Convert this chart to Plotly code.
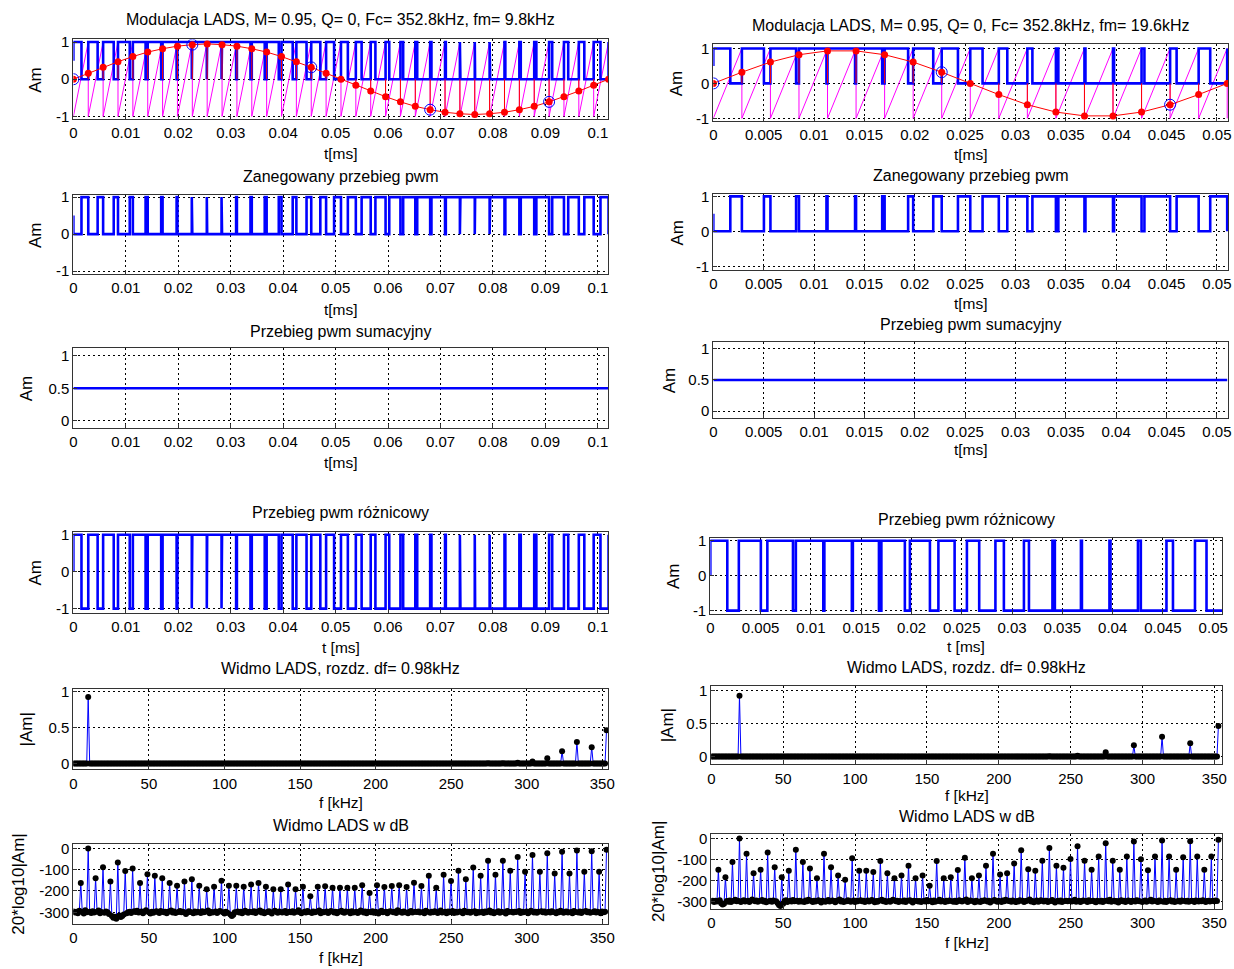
import numpy as np
import plotly.graph_objects as go

# ---------------- data ----------------
FC = 352.8          # carrier frequency [kHz]
DF = 0.98           # spectrum resolution [kHz]
ORIG_STEP = 8       # every 8th sample = original 44.1 kHz sample (blue circles)

# upsampled modulating samples (red dots), one per carrier period
samples_left = [0, 0.16, 0.32, 0.47, 0.61, 0.73, 0.82, 0.89, 0.93, 0.95, 0.93, 0.89,
                0.82, 0.73, 0.61, 0.47, 0.32, 0.16, 0, -0.16, -0.32, -0.47, -0.61, -0.73,
                -0.82, -0.89, -0.93, -0.95, -0.93, -0.89, -0.82, -0.73, -0.61, -0.47, -0.32, -0.16, 0]
samples_right = [0, 0.32, 0.61, 0.82, 0.93, 0.93, 0.82, 0.61, 0.32, 0,
                 -0.32, -0.61, -0.82, -0.93, -0.93, -0.82, -0.61, -0.32, 0]

# spectral lines every 5 bins (k = 1..72), in dB
peaks_db_left = [-162, -0.7, -140, -89, -156, -66, -106, -94, -162, -122, -128, -140,
                 -162, -175, -156, -145, -175, -192, -180, -152, -175, -175, -180, -170,
                 -162, -180, -192, -192, -170, -192, -180, -225, -180, -178, -185, -185,
                 -185, -185, -173, -210, -173, -181, -177, -173, -181, -161, -177, -129,
                 -185, -124, -153, -105, -145, -90, -129, -58, -124, -58, -105, -40,
                 -110, -31, -110, -23, -118, -15.4, -118, -10.5, -110, -13, -110, -6.7]
peaks_db_right = [-150, -185, -113, -0.7, -74, -167, -150, -67, -138, -185, -154, -54,
                  -113, -144, -190, -74, -138, -177, -197, -95, -154, -154, -161, -108,
                  -166, -190, -177, -131, -190, -177, -226, -108, -190, -185, -151, -93,
                  -190, -177, -131, -74, -172, -167, -120, -57, -148, -154, -107, -46,
                  -131, -140, -98, -38, -107, -150, -87, -24, -107, -150, -87, -15.4,
                  -100, -152, -87, -10.5, -87, -150, -90, -14, -87, -150, -87, -6.7]

# numerical noise floor for the remaining bins (dB)
floor_db_left = [
    -296, -301, -298, -304, -293, -299, -306, -290, -300, -297, -303, -295, -301, -298, -292, -305, -299,
    -302, -296, -300, -308, -318, -326, -321, -330, -315, -322, -318, -310, -305, -300, -297, -303, -295,
    -299, -293, -301, -296, -304, -298, -291, -300, -306, -297, -302, -295, -299, -303, -294, -300, -297,
    -305, -298, -292, -301, -296, -303, -299, -294, -300, -297, -308, -301, -295, -299, -304, -296, -301,
    -298, -303, -295, -300, -297, -292, -304, -299, -301, -296, -303, -298, -294, -300, -306, -297, -302,
    -310, -318, -312, -300, -296, -301, -298, -304, -293, -299, -302, -297, -300, -295, -303, -298, -292,
    -301, -297, -304, -299, -295, -300, -306, -293, -298, -302, -296, -301, -299, -294, -303, -297, -300,
    -295, -302, -298, -291, -300, -305, -297, -301, -294, -299, -303, -296, -300, -298, -292, -304, -299,
    -300, -296, -303, -298, -294, -301, -297, -305, -299, -293, -300, -302, -296, -298, -304, -295, -301,
    -297, -303, -299, -292, -301, -296, -304, -298, -300, -295, -302, -297, -306, -299, -293, -300, -298,
    -304, -298, -295, -300, -297, -303, -291, -299, -302, -296, -300, -305, -298, -294, -301, -297, -299,
    -296, -301, -299, -304, -293, -298, -302, -297, -300, -295, -303, -299, -292, -301, -298, -305, -296,
    -300, -294, -303, -298, -301, -296, -299, -305, -293, -300, -297, -302, -298, -295, -304, -299, -301,
    -298, -303, -296, -300, -292, -301, -297, -304, -299, -295, -302, -298, -300, -306, -294, -299, -297,
    -301, -297, -299, -294, -303, -298, -300, -296, -305, -299, -293, -301, -297, -302, -298, -295, -300,
    -296, -302, -298, -301, -295, -299, -304, -297, -300, -293, -302, -298, -296, -301, -299, -305, -294,
    -299, -301, -296, -303, -298, -294, -300, -297, -302, -299, -295, -301, -298, -304, -296, -300, -298]
floor_db_right = [
    -300, -297, -303, -298, -301, -295, -310, -316, -312, -299, -302, -296, -304, -298, -293, -300, -297,
    -303, -299, -295, -301, -297, -304, -298, -292, -300, -296, -302, -299, -294, -301, -297, -305, -300,
    -298, -302, -296, -300, -308, -318, -322, -312, -299, -295, -303, -298, -301, -294, -300, -297, -302,
    -297, -301, -304, -296, -300, -293, -299, -303, -298, -301, -295, -300, -306, -297, -302, -299, -294,
    -301, -296, -299, -305, -298, -292, -301, -297, -303, -300, -295, -299, -302, -296, -304, -298, -300,
    -295, -300, -298, -303, -296, -301, -297, -294, -305, -299, -302, -298, -293, -300, -297, -304, -299,
    -302, -298, -293, -300, -297, -304, -299, -301, -296, -303, -298, -295, -300, -306, -297, -299, -301,
    -299, -303, -297, -301, -294, -300, -298, -305, -296, -302, -299, -293, -301, -297, -303, -298, -300,
    -296, -300, -302, -298, -304, -295, -299, -301, -297, -292, -303, -299, -296, -300, -305, -298, -301,
    -303, -297, -299, -295, -301, -298, -306, -300, -294, -299, -302, -297, -304, -296, -300, -293, -299,
    -298, -302, -296, -304, -299, -301, -295, -298, -303, -300, -297, -292, -301, -299, -305, -296, -302,
    -300, -295, -301, -298, -297, -303, -299, -294, -300, -306, -298, -301, -296, -303, -299, -297, -300,
    -297, -301, -299, -293, -302, -298, -304, -300, -296, -299, -303, -295, -300, -298, -301, -305, -297,
    -301, -298, -304, -299, -296, -300, -293, -302, -297, -301, -299, -306, -295, -300, -298, -303, -296,
    -299, -303, -297, -301, -295, -298, -300, -304, -299, -296, -302, -298, -293, -301, -297, -300, -304,
    -296, -300, -302, -297, -303, -299, -295, -301, -298, -304, -300, -297, -302, -296, -299, -301, -298,
    -302, -297, -299, -304, -296, -301, -298, -300, -295, -303, -299, -297, -301, -298, -300, -296, -299]

# axis ticks
t_ticks_left = [0, 0.01, 0.02, 0.03, 0.04, 0.05, 0.06, 0.07, 0.08, 0.09, 0.1]
t_labels_left = ["0", "0.01", "0.02", "0.03", "0.04", "0.05", "0.06", "0.07", "0.08", "0.09", "0.1"]
t_ticks_right = [0, 0.005, 0.01, 0.015, 0.02, 0.025, 0.03, 0.035, 0.04, 0.045, 0.05]
t_labels_right = ["0", "0.005", "0.01", "0.015", "0.02", "0.025", "0.03", "0.035", "0.04", "0.045", "0.05"]
f_ticks = [0, 50, 100, 150, 200, 250, 300, 350]
f_labels = ["0", "50", "100", "150", "200", "250", "300", "350"]
am_ticks = [-1, 0, 1]
am_labels = ["-1", "0", "1"]
half_ticks = [0, 0.5, 1]
half_labels = ["0", "0.5", "1"]
db_ticks = [-300, -200, -100, 0]
db_labels = ["-300", "-200", "-100", "0"]

titles_left = ["Modulacja LADS, M= 0.95, Q= 0, Fc= 352.8kHz, fm= 9.8kHz", "Zanegowany przebieg pwm",
               "Przebieg pwm sumacyjny", "Przebieg pwm różnicowy", "Widmo LADS, rozdz. df= 0.98kHz",
               "Widmo LADS w dB"]
titles_right = ["Modulacja LADS, M= 0.95, Q= 0, Fc= 352.8kHz, fm= 19.6kHz", "Zanegowany przebieg pwm",
                "Przebieg pwm sumacyjny", "Przebieg pwm różnicowy", "Widmo LADS, rozdz. df= 0.98kHz",
                "Widmo LADS w dB"]
xlabels = ["t[ms]", "t[ms]", "t[ms]", "t [ms]", "f [kHz]", "f [kHz]"]
ylabels = ["Am", "Am", "Am", "Am", "|Am|", "20*log10|Am|"]

# ---------------- derived signals ----------------
T = 1.0 / FC  # carrier period in ms


def pwm_wave(s):
    xs, ys = [0.0], [0.5]
    for k in range(len(s) - 1):
        u = (1 + s[k]) / (2 - (s[k + 1] - s[k]))
        t0, t1, t2 = k * T, (k + u) * T, (k + 1) * T
        xs += [t0, t1, t1, t2]
        ys += [1, 1, 0, 0]
    xs.append(xs[-1]); ys.append(1)
    return np.array(xs), np.array(ys, dtype=float)


def saw_wave(n):
    xs, ys = [0.0], [-1.0]
    for k in range(n):
        xs += [(k + 1) * T, (k + 1) * T]
        ys += [1.0, -1.0]
    return xs, ys


def stems(s):
    xs, ys = [], []
    for k, v in enumerate(s):
        xs += [k * T, k * T, None]
        ys += [0, v, None]
    return xs, ys


def spectrum(peaks, floor):
    n = len(peaks) * 5 + 1
    db = np.zeros(n)
    fi = iter(floor)
    for i in range(n):
        if i > 0 and i % 5 == 0:
            db[i] = peaks[i // 5 - 1]
        else:
            db[i] = next(fi)
    f = np.arange(n) * DF
    return f, db, 10 ** (db / 20)


W, H = 1234, 969
BLUE, MAG, RED = "#0000FF", "#FF00FF", "#FF0000"
FONT = "Liberation Sans, Arial, sans-serif"
TICK_SIZE, TITLE_SIZE, XLAB_SIZE, YLAB_SIZE = 15, 16, 15.5, 17


# pixel -> paper helpers (small correction for the page's rendering offset)
def fx(p):
    return min(1.0, max(0.0, ((p - 3.6) / 0.992) / W))


def fy(p):
    return min(1.0, max(0.0, 1 - ((p - 6.5) / 0.989) / H))


fig = go.Figure()

# box geometry in pixels: (x0, x1, ytop, ybottom, xrange, yrange)
boxes_left = [
    (73, 608, 39, 119, [0, 0.102], [-1.08, 1.07]),
    (73, 608, 195, 274, [0, 0.102], [-1.08, 1.05]),
    (73, 608, 348, 428, [0, 0.102], [-0.11, 1.12]),
    (73, 608, 532, 613, [0, 0.102], [-1.11, 1.08]),
    (73, 608, 689, 770, [0, 354], [-0.083, 1.04]),
    (73, 608, 845, 925, [0, 354], [-356, 19]),
]
boxes_right = [
    (713, 1228, 44, 121, [0, 0.0511], [-1.086, 1.114]),
    (713, 1228, 194, 270, [0, 0.0511], [-1.11, 1.06]),
    (713, 1228, 342, 418, [0, 0.0511], [-0.11, 1.11]),
    (710, 1222, 538, 614, [0, 0.0509], [-1.086, 1.086]),
    (711, 1222, 686, 765, [0, 355.5], [-0.12, 1.076]),
    (711, 1222, 835, 910, [0, 355.5], [-338, 19]),
]
title_y_left = [19, 176, 331, 513, 669, 826]
title_y_right = [25, 175, 324, 520, 668, 817]
xlab_y_left = [153, 309, 463, 648, 803, 958]
xlab_y_right = [154, 303, 450, 647, 796, 943]
ylab_x_left = [35, 35, 27, 35, 27, 18]
ylab_x_right = [677, 677, 670, 673, 668, 658]

annotations = []
axis_i = 0


def add_axes(box, xt, xl, yt, yl):
    global axis_i
    axis_i += 1
    x0, x1, yt_, yb, xr, yr = box
    sfx = "" if axis_i == 1 else str(axis_i)
    common = dict(showline=True, linecolor="#333333", linewidth=1.2, mirror=True,
                  ticks="inside", ticklen=4, tickcolor="#333333",
                  showgrid=True, gridcolor="#000000", gridwidth=1, griddash="2px,3px",
                  zeroline=False, tickfont=dict(family=FONT, size=TICK_SIZE, color="#000"))
    fig.layout["xaxis" + sfx] = dict(common, domain=[fx(x0), fx(x1)], range=xr,
                                      tickvals=xt, ticktext=xl, anchor="y" + sfx)
    fig.layout["yaxis" + sfx] = dict(common, domain=[fy(yb), fy(yt_)], range=yr,
                                      tickvals=yt, ticktext=yl, anchor="x" + sfx)
    return "x" + sfx, "y" + sfx


def add_texts(box, title, ty, xlab, xly, ylab, ylx):
    x0, x1, yt_, yb, xr, yr = box
    cx = fx((x0 + x1) / 2)
    annotations.append(dict(text=title, x=cx, y=fy(ty), xref="paper", yref="paper",
                            showarrow=False, xanchor="center", yanchor="middle",
                            font=dict(family=FONT, size=TITLE_SIZE, color="#000")))
    annotations.append(dict(text=xlab, x=cx, y=fy(xly), xref="paper", yref="paper",
                            showarrow=False, xanchor="center", yanchor="middle",
                            font=dict(family=FONT, size=XLAB_SIZE, color="#000")))
    annotations.append(dict(text=ylab, x=fx(ylx), y=fy((yt_ + yb) / 2), xref="paper", yref="paper",
                            showarrow=False, xanchor="center", yanchor="middle", textangle=-90,
                            font=dict(family=FONT, size=YLAB_SIZE, color="#000")))


for side in ("left", "right"):
    if side == "left":
        boxes, s, pk, fl = boxes_left, samples_left, peaks_db_left, floor_db_left
        tt, tl, titles = t_ticks_left, t_labels_left, titles_left
        tys, xys, yxs = title_y_left, xlab_y_left, ylab_x_left
    else:
        boxes, s, pk, fl = boxes_right, samples_right, peaks_db_right, floor_db_right
        tt, tl, titles = t_ticks_right, t_labels_right, titles_right
        tys, xys, yxs = title_y_right, xlab_y_right, ylab_x_right

    px, py = pwm_wave(s)
    neg = 1 - py
    sumw = (py + neg) / 2
    diff = py - neg
    sx, sy = saw_wave(len(s) - 1)
    stx, sty = stems(s)
    ts = [k * T for k in range(len(s))]
    f, db, lin = spectrum(pk, fl)

    specs = [(tt, tl, am_ticks, am_labels), (tt, tl, am_ticks, am_labels),
             (tt, tl, half_ticks, half_labels), (tt, tl, am_ticks, am_labels),
             (f_ticks, f_labels, half_ticks, half_labels), (f_ticks, f_labels, db_ticks, db_labels)]
    axes = []
    for i in range(6):
        axes.append(add_axes(boxes[i], *specs[i]))
        add_texts(boxes[i], titles[i], tys[i], xlabels[i], xys[i], ylabels[i], yxs[i])

    # row 1: modulation
    xa, ya = axes[0]
    fig.add_trace(go.Scatter(x=sx, y=sy, mode="lines", line=dict(color=MAG, width=1),
                             xaxis=xa, yaxis=ya, showlegend=False))
    fig.add_trace(go.Scatter(x=px, y=py, mode="lines", line=dict(color=BLUE, width=2.6),
                             xaxis=xa, yaxis=ya, showlegend=False))
    fig.add_trace(go.Scatter(x=stx, y=sty, mode="lines", line=dict(color=RED, width=1),
                             xaxis=xa, yaxis=ya, showlegend=False))
    fig.add_trace(go.Scatter(x=ts, y=s, mode="lines+markers", line=dict(color=RED, width=1),
                             marker=dict(color=RED, size=7), xaxis=xa, yaxis=ya, showlegend=False))
    fig.add_trace(go.Scatter(x=ts[::ORIG_STEP], y=s[::ORIG_STEP], mode="markers",
                             marker=dict(color="rgba(0,0,0,0)", size=11, line=dict(color=BLUE, width=1)),
                             xaxis=xa, yaxis=ya, showlegend=False))
    # rows 2-4
    for i, yv in ((1, neg), (2, sumw), (3, diff)):
        xa, ya = axes[i]
        fig.add_trace(go.Scatter(x=px, y=yv, mode="lines", line=dict(color=BLUE, width=2.6),
                                 xaxis=xa, yaxis=ya, showlegend=False))
    # rows 5-6: spectra
    for i, yv in ((4, lin), (5, db)):
        xa, ya = axes[i]
        fig.add_trace(go.Scatter(x=f, y=yv, mode="lines+markers", line=dict(color=BLUE, width=1),
                                 marker=dict(color="#000000", size=6), cliponaxis=True,
                                 xaxis=xa, yaxis=ya, showlegend=False))

fig.update_layout(width=W, height=H, margin=dict(l=0, r=0, t=0, b=0),
                  paper_bgcolor="white", plot_bgcolor="white",
                  annotations=annotations, font=dict(family=FONT, size=TICK_SIZE, color="#000"))

fig.write_html("out.html", config={"displayModeBar": False},
               post_script="document.body.style.margin='0';document.body.style.overflow='hidden';")
